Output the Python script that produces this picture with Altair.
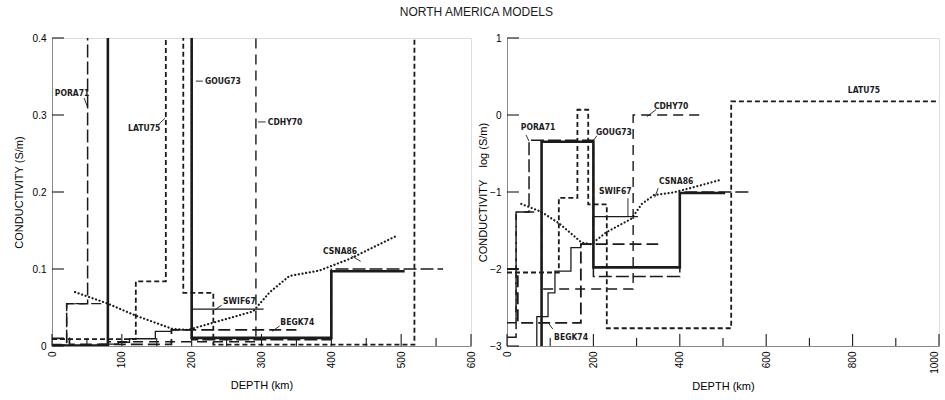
import altair as alt
import pandas as pd

INK = "#1b1b1b"
FONT = "Liberation Sans"
TAG_FONT = "Liberation Sans Narrow, DejaVu Sans Condensed, sans-serif"

# Layered conductivity models: layer boundaries (km) and conductivity (S/m)
pora71_depth = [0, 21, 51, 200, 400, 560]
pora71_sigma = [0.0013, 0.055, 0.47, 0.008, 0.1]
goug73_depth = [0, 80, 200, 400, 505]
goug73_sigma = [0.0005, 0.45, 0.0105, 0.097]
swif67_depth = [0, 69, 95, 111, 148, 171, 200, 303]
swif67_sigma = [0.0005, 0.0024, 0.0049, 0.0094, 0.019, 0.021, 0.048]
latu75_depth = [0, 120, 163, 188, 231, 519, 1000]
latu75_sigma = [0.009, 0.084, 1.17, 0.069, 0.0017, 1.5]
cdhy70_depth = [0, 21, 80, 292, 454]
cdhy70_sigma = [0.002, 0.055, 0.0055, 1.0]
begk74_depth = [0, 25, 171, 350]
begk74_sigma = [0.01, 0.002, 0.021]

# Smooth model (sampled profile)
csna86_depth = [33, 80, 121, 173, 195, 230, 288, 312, 340, 383, 426, 491]
csna86_sigma = [0.070, 0.055, 0.039, 0.022, 0.021, 0.030, 0.045, 0.070, 0.091, 0.098, 0.113, 0.142]

# Line style per layered model: (dash pattern, stroke width)
styles = {
    "PORA71": ([13, 4], 1.5),
    "GOUG73": ([1, 0], 2.6),
    "SWIF67": ([1, 0], 1.3),
    "LATU75": ([5, 3], 1.8),
    "CDHY70": ([10, 6], 1.4),
    "BEGK74": ([12, 5], 1.8),
}
layered = {
    "PORA71": (pora71_depth, pora71_sigma),
    "GOUG73": (goug73_depth, goug73_sigma),
    "SWIF67": (swif67_depth, swif67_sigma),
    "LATU75": (latu75_depth, latu75_sigma),
    "CDHY70": (cdhy70_depth, cdhy70_sigma),
    "BEGK74": (begk74_depth, begk74_sigma),
}

# Model tags: name, anchor depth, anchor value (linear panel)
lin_tag_name = ["PORA71", "LATU75", "GOUG73", "CDHY70", "SWIF67", "BEGK74", "CSNA86"]
lin_tag_depth = [4, 109, 219, 309, 245, 327, 388]
lin_tag_val = [0.329, 0.283, 0.344, 0.291, 0.059, 0.031, 0.123]
lin_lead_d1 = [46, 152, 206, 295, 243, 326, 429]
lin_lead_v1 = [0.322, 0.287, 0.344, 0.291, 0.053, 0.026, 0.117]
lin_lead_d2 = [51, 162, 216, 306, 233, 315, 442]
lin_lead_v2 = [0.310, 0.296, 0.344, 0.291, 0.047, 0.019, 0.110]

# Model tags for the log panel
log_tag_name = ["PORA71", "GOUG73", "CDHY70", "SWIF67", "CSNA86", "BEGK74", "LATU75"]
log_tag_depth = [32, 206, 340, 213, 352, 109, 789]
log_tag_val = [-0.16, -0.22, 0.12, -0.99, -0.86, -2.88, 0.33]
log_lead_d1 = [44, 208, 345, 280, 350, 106]
log_lead_v1 = [-0.26, -0.27, 0.07, -1.08, -0.95, -2.78]
log_lead_d2 = [51, 199, 324, 280, 342, 97]
log_lead_v2 = [-0.34, -0.34, -0.02, -1.32, -1.07, -2.71]


def step_frame(name, bounds, sig):
    rows = []
    for i, s in enumerate(sig):
        rows.append({"model": name, "seq": 2 * i, "depth": bounds[i], "sigma": s})
        rows.append({"model": name, "seq": 2 * i + 1, "depth": bounds[i + 1], "sigma": s})
    return pd.DataFrame(rows)


def panel(xmax, ydom, use_log, width, height, xmajor, xminor, xlabels,
          yticks, ytitle, ylabel_expr, y_title_pad, x_title_pad,
          tags, leads):
    val_expr = "log(datum.sigma) / LN10" if use_log else "datum.sigma"
    # keep the last depth label inside the right edge of the chart
    last_baseline = {"condition": {"test": f"datum.value == {xmax} && {xmax} == 1000",
                                   "value": "bottom"},
                     "value": "middle"}
    x_enc = alt.X(
        "depth:Q",
        scale=alt.Scale(domain=[0, xmax], nice=False, zero=False),
        axis=alt.Axis(values=xlabels, title="DEPTH (km)", labelAngle=270,
                      labelAlign="right", labelBaseline=last_baseline,
                      ticks=False, tickSize=0, grid=False, labelPadding=5,
                      titlePadding=x_title_pad, format="d",
                      titleFontWeight="normal"),
    )
    y_axis = dict(values=yticks, title=ytitle, ticks=False, tickSize=0,
                  grid=False, labelPadding=6, titlePadding=y_title_pad,
                  titleFontWeight="normal")
    if ylabel_expr:
        y_axis["labelExpr"] = ylabel_expr
    y_enc = alt.Y("val:Q", scale=alt.Scale(domain=ydom, nice=False, zero=False),
                  axis=alt.Axis(**y_axis))

    layers = []
    for name, (bounds, sig) in layered.items():
        dash, sw = styles[name]
        layers.append(
            alt.Chart(step_frame(name, bounds, sig))
            .transform_calculate(val=val_expr)
            .mark_line(clip=True, color=INK, strokeDash=dash, strokeWidth=sw,
                       strokeJoin="miter")
            .encode(x=x_enc, y=y_enc, order="seq:Q")
        )
    smooth = pd.DataFrame({"depth": csna86_depth, "sigma": csna86_sigma})
    layers.append(
        alt.Chart(smooth)
        .transform_calculate(val=val_expr)
        .mark_line(clip=True, color=INK, strokeDash=[0.1, 3.6], strokeWidth=2.2,
                   strokeCap="round")
        .encode(x=x_enc, y=y_enc)
    )

    # inward tick marks
    major = pd.DataFrame({"depth": xmajor})
    minor = pd.DataFrame({"depth": xminor})
    layers.append(alt.Chart(major).mark_rule(color=INK, strokeWidth=1.1).encode(
        x=x_enc, y=alt.value(height), y2=alt.value(height - 12)))
    layers.append(alt.Chart(minor).mark_rule(color=INK, strokeWidth=1.1).encode(
        x=x_enc, y=alt.value(height), y2=alt.value(height - 8)))
    yt = pd.DataFrame({"val": yticks})
    layers.append(alt.Chart(yt).mark_rule(color=INK, strokeWidth=1.1).encode(
        y=y_enc, x=alt.value(0), x2=alt.value(12)))

    # model tags and leader lines
    layers.append(alt.Chart(leads).mark_rule(color=INK, strokeWidth=0.9).encode(
        x=x_enc, y=y_enc, x2="depth2:Q", y2="val2:Q"))
    layers.append(alt.Chart(tags).mark_text(
        align="left", baseline="middle", font=TAG_FONT, fontWeight="bold",
        fontSize=8.5, color=INK).encode(x=x_enc, y=y_enc, text="name:N"))

    return alt.layer(*layers).properties(width=width, height=height)


lin_tags = pd.DataFrame({"name": lin_tag_name, "depth": lin_tag_depth, "val": lin_tag_val})
lin_leads = pd.DataFrame({"depth": lin_lead_d1, "val": lin_lead_v1,
                          "depth2": lin_lead_d2, "val2": lin_lead_v2})
log_tags = pd.DataFrame({"name": log_tag_name, "depth": log_tag_depth, "val": log_tag_val})
log_leads = pd.DataFrame({"depth": log_lead_d1, "val": log_lead_v1,
                          "depth2": log_lead_d2, "val2": log_lead_v2})

left = panel(
    600, [0, 0.4], False, 419, 308,
    [0, 100, 200, 300, 400, 500, 600], [50, 150, 250, 350, 450, 550],
    [0, 100, 200, 300, 400, 500, 600],
    [0, 0.1, 0.2, 0.3, 0.4], "CONDUCTIVITY (S/m)",
    "datum.value == 0 ? '0' : format(datum.value, '.1f')", 8, 12,
    lin_tags, lin_leads,
)
right = panel(
    1000, [-3, 1], True, 432, 308,
    [0, 200, 400, 600, 800, 1000], [100, 300, 500, 700, 900],
    [0, 200, 400, 600, 800, 1000],
    [-3, -2, -1, 0, 1], "CONDUCTIVITY\u00a0\u00a0\u00a0\u00a0log (S/m)",
    None, 1, 7,
    log_tags, log_leads,
)

chart = (
    alt.hconcat(left, right, spacing=0)
    .properties(
        title=alt.TitleParams("NORTH AMERICA MODELS", fontSize=12, font=FONT,
                              fontWeight="normal", anchor="middle", color=INK,
                              offset=14),
        padding={"left": 12, "top": 5, "right": 0, "bottom": 0},
    )
    .configure_view(stroke=None)
    .configure_axis(
        domainColor=INK, domainWidth=1.2, labelColor=INK, titleColor=INK,
        labelFont=FONT, titleFont=FONT, labelFontSize=11, titleFontSize=10,
        titleFontWeight="normal",
    )
    .configure(background="white")
)

chart.save("out.html", embed_options={"renderer": "svg", "actions": False})
